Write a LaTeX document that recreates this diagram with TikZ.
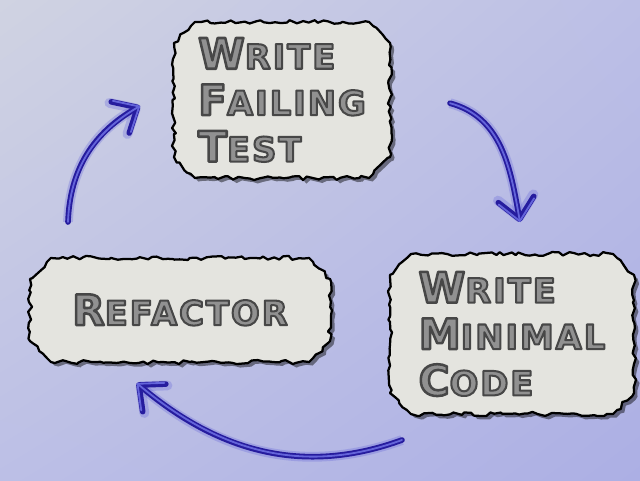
\documentclass[tikz,border=0pt]{standalone}
\usepackage{fontspec}
\usepackage{tikz}
\usetikzlibrary{arrows.meta}
\usetikzlibrary{decorations.pathmorphing,shadows,shadings,shapes.misc}

\newfontfamily\inkfont[LetterSpace=6,FakeBold=6]{DejaVu Sans Bold}

\definecolor{bgpale}{RGB}{208,211,226}
\definecolor{bgmid}{RGB}{188,191,230}
\definecolor{bgblue}{RGB}{172,175,228}
\definecolor{paperfill}{RGB}{228,228,223}
\definecolor{pencilgray}{RGB}{145,145,145}
\definecolor{inkblue}{RGB}{38,28,158}
\definecolor{inklite}{RGB}{100,100,218}

\newcommand{\initcap}[1]{{\fontsize{30}{30}\selectfont #1}}
\newcommand{\inkline}[1]{\special{pdf:code 0.28 0.28 0.28 RG}#1}

\begin{document}
\pgfmathsetseed{11}
\begin{tikzpicture}[
    paper/.style = {draw=black, line width=1.6pt, fill=paperfill, line join=round,
        chamfered rectangle, chamfered rectangle xsep=12pt,
        decorate, decoration={random steps, segment length=3.5pt, amplitude=1.5pt},
        drop shadow={shadow xshift=2.5pt, shadow yshift=-2.5pt, fill=black, opacity=0.45},
        text=pencilgray, font={\inkfont\fontsize{24}{33}\selectfont}, align=left},
    marker/.style = {draw=inkblue, line width=4pt, line cap=round, line join=round,
        -{Straight Barb[length=5mm, width=9mm, round]},
        preaction={draw=inklite, line width=7pt, opacity=0.3},
        postaction={draw=inklite, line width=1.3pt}}]
    \useasboundingbox (0,0) rectangle (16,12);
    \shade[upper left=bgpale, upper right=bgmid, lower left=bgmid, lower right=bgblue] (0,0) rectangle (16,12);
    \begin{scope}[every node/.style={paper}]
        \node[minimum width=5.4cm, minimum height=3.9cm] (T) at (7.05,9.5)
            {\inkline{\initcap{W}RITE}\\ \inkline{\initcap{F}AILING}\\ \inkline{\initcap{T}EST}};
        \node[minimum width=6.1cm, minimum height=4.0cm] (M) at (12.8,3.65)
            {\inkline{\initcap{W}RITE}\\ \inkline{\initcap{M}INIMAL}\\ \inkline{\initcap{C}ODE}};
        \node[minimum width=7.5cm, minimum height=2.6cm] (R) at (4.5,4.25)
            {\inkline{\initcap{R}EFACTOR}};
    \end{scope}
    \coordinate (T1) at (11.25,9.42);
    \coordinate (M1) at (13.0,6.45);
    \coordinate (M2) at (10.05,1.0);
    \coordinate (R1) at (3.42,2.42);
    \coordinate (R2) at (1.7,6.45);
    \coordinate (T2) at (3.5,9.35);
    \draw [marker] (T1) to[out=-15, in=100] (M1);
    \draw [marker] (M2) to[out=200, in=-40] (R1);
    \draw [marker] (R2) to[out=88, in=210] (T2);
\end{tikzpicture}
\end{document}
